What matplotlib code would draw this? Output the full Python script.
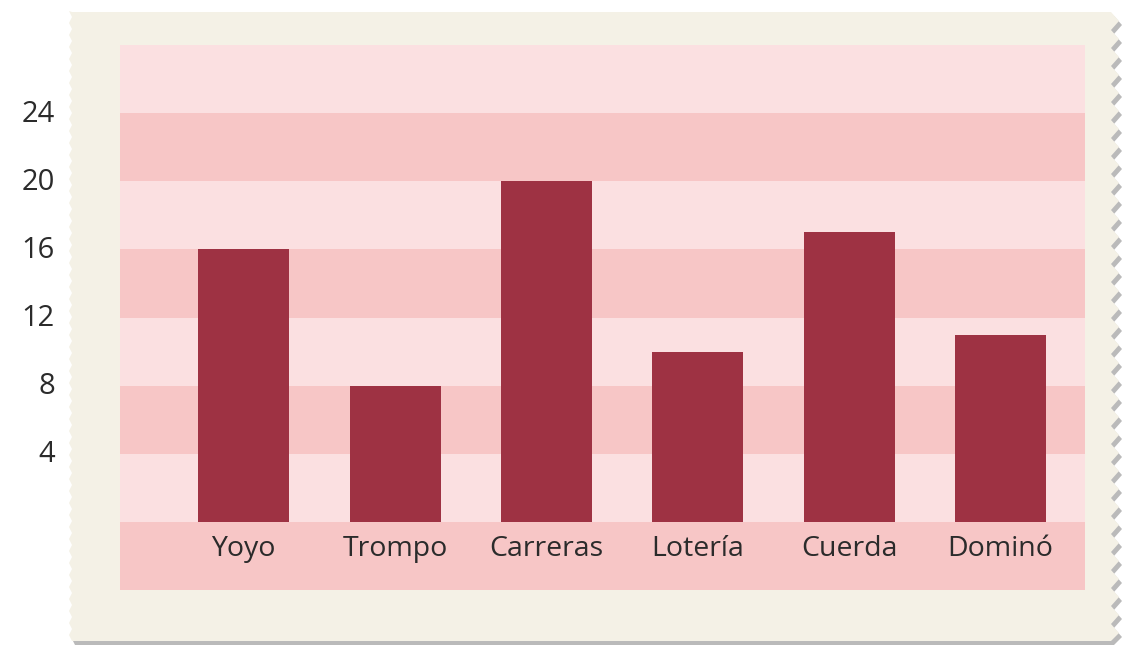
import numpy as np
import matplotlib.pyplot as plt
from matplotlib.patches import Polygon

plt.rcParams['font.family'] = ['Open Sans', 'DejaVu Sans']

categories = ['Yoyo', 'Trompo', 'Carreras', 'Lotería', 'Cuerda', 'Dominó']
values = [16, 8, 20, 10, 17, 11]
yticks = [4, 8, 12, 16, 20, 24]

W, H = 1132, 647
fig = plt.figure(figsize=(W / 100, H / 100), dpi=100)
fig.patch.set_facecolor('white')

# background axes in pixel coordinates for the stamp frame
bg = fig.add_axes([0, 0, 1, 1])
bg.set_xlim(0, W)
bg.set_ylim(H, 0)
bg.axis('off')

top, bottom, left, right = 12, 641, 72, 1111

def stamp_outline(dx=0.0, dy=0.0):
    pts = [(left, top), (right, top)]
    # zigzag teeth on the right
    ys = np.arange(top, bottom, 18.0)
    for y in ys:
        pts.append((right, y))
        pts.append((right + 8, y + 9))
    pts.append((right, bottom))
    pts.append((left, bottom))
    # small scallops on the left
    ys = np.arange(bottom, top, -12.0)
    for y in ys:
        pts.append((left, y))
        pts.append((left - 3, y - 6))
    pts.append((left, top))
    return [(x + dx, y + dy) for x, y in pts]

bg.add_patch(Polygon(stamp_outline(3, 4), closed=True, facecolor='#8c8c8c',
                     edgecolor='none', alpha=0.6))
bg.add_patch(Polygon(stamp_outline(), closed=True, facecolor='#f4f1e6',
                     edgecolor='none'))

# main chart area
ax = fig.add_axes([120 / W, 1 - 590 / H, (1085 - 120) / W, (590 - 45) / H])
ax.set_xlim(-0.817, 5.557)
ax.set_ylim(-4, 28)

# alternating bands
for i, lo in enumerate(range(-4, 28, 4)):
    ax.axhspan(lo, lo + 4, color='#f7c6c6' if i % 2 == 0 else '#fbe0e1', lw=0)

x = np.arange(len(categories))
ax.bar(x, values, width=0.6, color='#9e3243', zorder=3)

for xi, name in zip(x, categories):
    ax.text(xi, -1.6, name, ha='center', va='center', fontsize=20.5, color='#2b2b2b')

for t in yticks:
    fig.text(55 / W, 1 - (522 - t * 17) / H, str(t), ha='right', va='center',
             fontsize=21, color='#2b2b2b')

ax.set_xticks([])
ax.set_yticks([])
for s in ax.spines.values():
    s.set_visible(False)

fig.savefig('out.png', dpi=100)
